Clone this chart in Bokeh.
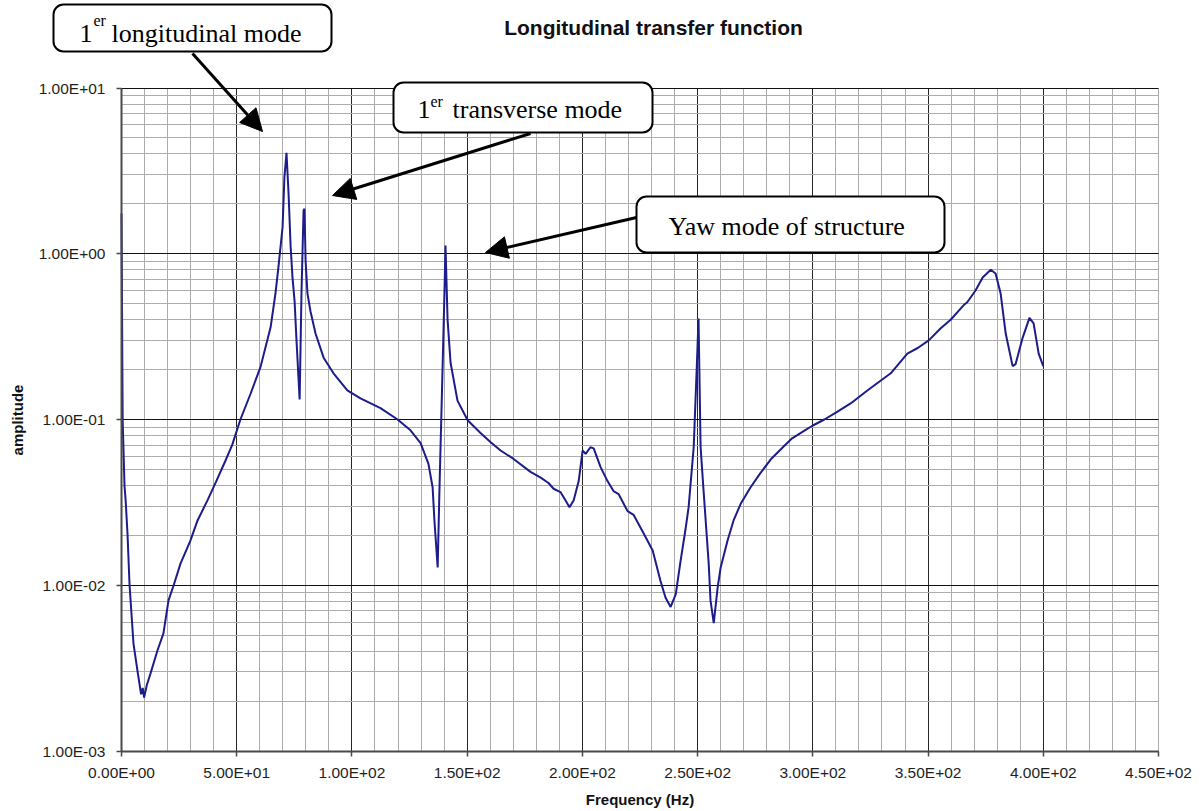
from bokeh.plotting import figure
from bokeh.models import (Range1d, FixedTicker, BoxAnnotation, Label, Arrow,
                          NormalHead)
from bokeh.embed import file_html
from bokeh.resources import INLINE

# ---------------- data ----------------
freq = [0.0, 0.5, 1.3, 1.8, 2.6, 3.5, 5.2, 7.0, 8.5, 9.2, 9.8, 11.0, 12.6, 15.6,
        18.2, 20.4, 22.6, 25.6, 29.9, 33.0, 37.3, 41.0, 45.0, 48.0, 51.6, 56.0,
        60.3, 64.7, 66.8, 68.1, 69.9, 70.7, 71.6, 72.5, 73.4, 74.2, 75.1, 76.0,
        77.3, 78.1, 79.0, 79.4, 79.9, 80.7, 82.0, 84.2, 87.7, 92.0, 98.0, 103.7,
        112.4, 119.8, 125.4, 129.8, 133.2, 135.0, 135.8, 137.2, 138.0, 139.3,
        140.2, 140.6, 141.5, 142.8, 145.8, 150.2, 155.8, 160.2, 164.5, 170.0,
        177.5, 181.9, 185.3, 187.5, 190.5, 192.7, 194.4, 196.2, 198.4, 200.1,
        201.4, 203.5, 204.9, 207.9, 210.9, 213.5, 215.7, 219.6, 222.2, 226.6,
        230.5, 233.9, 236.1, 238.3, 240.5, 242.6, 244.8, 246.1, 248.3, 249.6,
        250.4, 251.3, 252.6, 254.8, 255.6, 257.0, 258.7, 260.0, 263.0, 265.6,
        268.7, 273.0, 277.0, 282.0, 287.0, 291.0, 296.0, 300.0, 305.0, 310.0,
        316.4, 323.8, 333.8, 341.0, 345.5, 350.3, 355.5, 359.8, 365.5, 367.0,
        370.6, 373.7, 377.2, 379.3, 381.5, 383.7, 386.7, 388.0, 391.0, 394.0,
        395.8, 398.0, 400.0]
amplitude = [1.75, 0.10, 0.04, 0.0325, 0.0205, 0.010, 0.00445, 0.0030, 0.0022,
             0.0024, 0.0021, 0.0025, 0.00294, 0.00404, 0.00512, 0.0081, 0.00996,
             0.0135, 0.0186, 0.0246, 0.0325, 0.042, 0.056, 0.070, 0.100, 0.143,
             0.207, 0.36, 0.575, 0.83, 1.45, 2.9, 4.07, 2.3, 1.1, 0.72, 0.52,
             0.29, 0.132, 0.575, 1.82, 1.87, 0.90, 0.575, 0.45, 0.33, 0.236,
             0.19, 0.15, 0.134, 0.117, 0.100, 0.086, 0.072, 0.054, 0.039,
             0.0245, 0.0128, 0.039, 0.197, 0.63, 1.12, 0.40, 0.22, 0.13, 0.099,
             0.083, 0.073, 0.065, 0.058, 0.0483, 0.0446, 0.0414, 0.0382, 0.0365,
             0.0325, 0.0296, 0.0325, 0.0425, 0.065, 0.062, 0.068, 0.067, 0.0516,
             0.0425, 0.037, 0.0355, 0.028, 0.0266, 0.0205, 0.0162, 0.0106,
             0.0084, 0.0074, 0.0088, 0.014, 0.022, 0.0296, 0.068, 0.20, 0.407,
             0.068, 0.037, 0.0136, 0.0081, 0.0059, 0.0097, 0.0128, 0.0186,
             0.0246, 0.031, 0.039, 0.047, 0.058, 0.068, 0.077, 0.085, 0.092,
             0.100, 0.110, 0.125, 0.150, 0.190, 0.250, 0.270, 0.300, 0.355,
             0.400, 0.490, 0.510, 0.600, 0.720, 0.800, 0.760, 0.575, 0.330,
             0.210, 0.216, 0.310, 0.410, 0.380, 0.250, 0.210]

x_ticks = [0, 50, 100, 150, 200, 250, 300, 350, 400, 450]
x_tick_labels = ["0.00E+00", "5.00E+01", "1.00E+02", "1.50E+02", "2.00E+02",
                 "2.50E+02", "3.00E+02", "3.50E+02", "4.00E+02", "4.50E+02"]
y_ticks = [0.001, 0.01, 0.1, 1.0, 10.0]
y_tick_labels = ["1.00E-03", "1.00E-02", "1.00E-01", "1.00E+00", "1.00E+01"]

title_text = "Longitudinal transfer function"
x_label = "Frequency (Hz)"
y_label = "amplitude"

# ---------------- geometry (reference pixels of the plot area) ----------------
W, H = 1201, 811
FX0, FX1, FY0, FY1 = 121.0, 1158.0, 87.5, 750.5
XMIN, XMAX = 0.0, 450.0
YMIN_EXP, YMAX_EXP = -3.0, 1.0


def dx(sx):
    return XMIN + (sx - FX0) / (FX1 - FX0) * (XMAX - XMIN)


def dy(sy):
    return 10 ** (YMAX_EXP - (YMAX_EXP - YMIN_EXP) * (sy - FY0) / (FY1 - FY0))


# the frame covers the whole canvas so that call-outs outside the plot area are drawn
p = figure(width=W, height=H, output_backend="svg", toolbar_location=None,
           x_range=Range1d(dx(0), dx(W)),
           y_range=Range1d(dy(H), dy(0)),
           y_axis_type="log", min_border=0,
           background_fill_color="white", border_fill_color="white")
p.outline_line_color = None
p.title.visible = False

# grid, limited to the plot area
x_minor = [v for v in range(10, 451, 10) if v % 50 != 0 or v == 450]
p.xgrid.ticker = FixedTicker(ticks=x_ticks[:-1], minor_ticks=x_minor)
p.xgrid.bounds = (XMIN, XMAX)
p.xgrid.cross_bounds = (10 ** YMIN_EXP, 10 ** YMAX_EXP)
p.xgrid.grid_line_color = "#262626"
p.xgrid.grid_line_width = 1
p.xgrid.minor_grid_line_color = "#acacac"
p.xgrid.minor_grid_line_width = 1

y_minor = [k * d for d in [0.001, 0.01, 0.1, 1.0] for k in range(2, 10)]
p.ygrid.ticker = FixedTicker(ticks=y_ticks, minor_ticks=y_minor)
p.ygrid.bounds = (10 ** YMIN_EXP, 10 ** YMAX_EXP)
p.ygrid.cross_bounds = (XMIN, XMAX)
p.ygrid.grid_line_color = "#111111"
p.ygrid.grid_line_width = 1
p.ygrid.minor_grid_line_color = "#acacac"
p.ygrid.minor_grid_line_width = 1

# axes, pinned to the plot-area edges
xa = p.xaxis[0]
xa.ticker = FixedTicker(ticks=x_ticks, minor_ticks=[])
xa.major_label_overrides = dict(zip(x_ticks, x_tick_labels))
xa.bounds = (XMIN, XMAX)
xa.fixed_location = 10 ** YMIN_EXP
ya = p.yaxis[0]
ya.ticker = FixedTicker(ticks=y_ticks, minor_ticks=[])
ya.major_label_overrides = dict(zip(y_ticks, y_tick_labels))
ya.bounds = (10 ** YMIN_EXP, 10 ** YMAX_EXP)
ya.fixed_location = XMIN

for ax in (xa, ya):
    ax.axis_line_color = "#4a4a4a"
    ax.axis_line_width = 2
    ax.major_tick_line_color = "#4a4a4a"
    ax.major_tick_line_width = 1.5
    ax.major_tick_out = 5
    ax.major_tick_in = 0
    ax.minor_tick_line_color = None
    ax.major_label_text_font = "Liberation Sans"
    ax.major_label_text_font_size = "15.5px"
    ax.major_label_text_color = "#1e1e1e"
    ax.axis_label_text_font = "Liberation Sans"
    ax.axis_label_text_font_style = "bold"
    ax.axis_label_text_font_size = "15px"
    ax.axis_label_text_color = "#111111"

xa.axis_label = x_label
xa.major_label_standoff = 8
xa.axis_label_standoff = 6
ya.axis_label = y_label
ya.major_label_standoff = 11
ya.axis_label_standoff = 10

# curve
p.line(freq, amplitude, line_color="#1c1c8a", line_width=2)

# title
p.add_layout(Label(x=dx(653), y=dy(27), text=title_text, text_font="Liberation Sans",
                   text_font_style="bold", text_font_size="21px", text_color="#111111",
                   text_align="center", text_baseline="middle"))

# ---------------- call-outs (positions in reference pixels) ----------------
SERIF = "Liberation Serif"


def callout(l, r, t, b, pieces):
    p.add_layout(BoxAnnotation(left=dx(l), right=dx(r), top=dy(t), bottom=dy(b),
                               fill_color="white", fill_alpha=1.0,
                               line_color="black", line_alpha=1.0, line_width=2,
                               border_radius=10, level="overlay"))
    for (sx, sy, txt, size) in pieces:
        p.add_layout(Label(x=dx(sx), y=dy(sy), text=txt, text_font=SERIF,
                           text_font_size=size, text_color="black",
                           text_baseline="alphabetic", text_align="left",
                           level="overlay"))


def arrow(x0, y0, x1, y1):
    p.add_layout(Arrow(x_start=dx(x0), y_start=dy(y0), x_end=dx(x1), y_end=dy(y1),
                       line_color="black", line_width=3,
                       end=NormalHead(size=22, fill_color="black",
                                      line_color="black", line_width=1),
                       level="overlay"))


arrow(192, 53, 262, 131)
arrow(530, 133, 332, 195)
arrow(636, 217, 485, 252)

callout(53, 331, 4, 51, [(79, 33, "1", "26px"), (93, 20, "er", "16px"),
                         (111, 33, "longitudinal mode", "26px")])
callout(393, 652, 82, 132, [(417, 109, "1", "26px"), (430, 101, "er", "16px"),
                            (452, 109, "transverse mode", "26px")])
callout(636, 944, 196, 252, [(668, 226, "Yaw mode of structure", "26px")])

open("out.html", "w").write(file_html(p, INLINE))
